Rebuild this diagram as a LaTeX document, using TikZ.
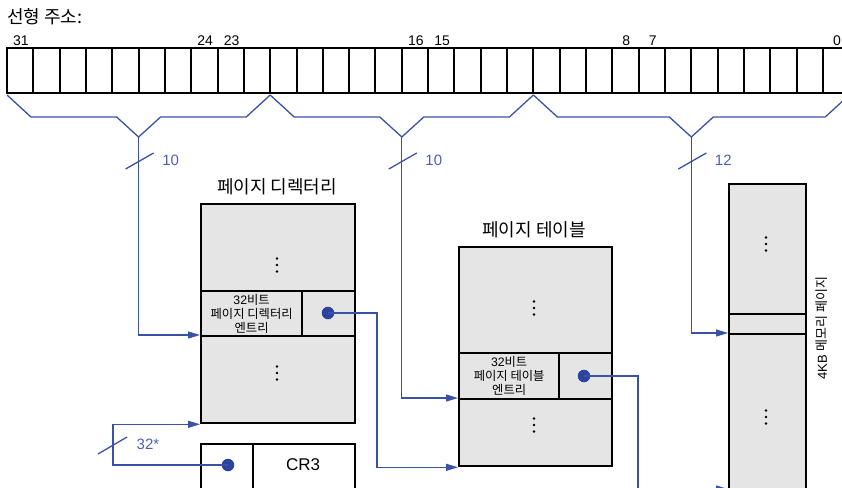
\documentclass[tikz,border=0pt]{standalone}
\usepackage{fontspec}
\setmainfont{Liberation Sans}
\newfontfamily\kr{Noto Sans CJK KR}
\usetikzlibrary{arrows.meta}
\definecolor{lineblue}{HTML}{3A52A6}
\definecolor{dotblue}{HTML}{2C449E}
\definecolor{labelblue}{HTML}{4A62B0}
\definecolor{boxgray}{HTML}{E4E5E4}
\begin{document}
\begin{tikzpicture}[x=1pt,y=-1pt,
  cellbox/.style={draw=black, line width=2pt, fill=white, minimum width=26.32pt, minimum height=45pt, inner sep=0},
  graybox/.style={draw=black, line width=2.3pt, fill=boxgray, inner sep=0, anchor=north west},
  whitebox/.style={graybox, fill=white},
  bitlabel/.style={font=\fontsize{14}{16}\selectfont, anchor=base, inner sep=0},
  bluelabel/.style={text=labelblue, font=\fontsize{15}{17}\selectfont, inner sep=0},
  blueline/.style={draw=lineblue, line width=1.3pt},
  bluearrow/.style={blueline, -{Triangle[length=12pt,width=7pt]}},
  bluedot/.style={circle, fill=dotblue, minimum size=12.5pt, inner sep=0},
  titletext/.style={font=\kr\fontsize{18}{20}\selectfont, inner sep=0},
  entrytext/.style={font=\fontsize{12.3}{14}\selectfont, align=center, inner sep=0}
]
\useasboundingbox (0,0) rectangle (842,487);
\clip (0,0) rectangle (842,487);

% title
\node[titletext, anchor=west] (lintitle) at (7,17) {선형 주소:};

% register cells
\foreach \i in {0,...,31} {
  \node[cellbox] (cell\i) at ({7+26.32*\i+13.16},70.5) {};
}
% bit labels
\foreach \i/\t in {0/31,7/24,8/23,15/16,16/15,23/8,24/7,31/0} {
  \node[bitlabel] (bit\t) at ({7+26.32*\i+14},45.5) {\t};
}

% braces
\coordinate (tip1) at (138.6,137);
\coordinate (tip2) at (401.8,137);
\coordinate (tip3) at (691.3,137);
\foreach \a/\m/\b in {7/138.6/270.2, 270.2/401.8/533.4, 533.4/691.3/849.2} {
  \draw[blueline, line join=miter] (\a,95) -- (\a+24,117) -- (\m-22,117) -- (\m,137)
     -- (\m+22,117) -- (\b-24,117) -- (\b,95);
}

% page directory
\node[graybox, minimum width=154pt, minimum height=87pt] (dirtop) at (200,203) {};
\node[graybox, minimum width=101pt, minimum height=45pt] (dirent) at (200,290) {};
\node[graybox, minimum width=53pt, minimum height=45pt] (dirptr) at (301,290) {};
\node[graybox, minimum width=154pt, minimum height=87pt] (dirbot) at (200,335) {};
\node[titletext] (dirtitle) at (277,187) {페이지 디렉터리};
\node[entrytext] (dirtext) at (dirent.center) {32{\kr 비트}\\{\kr 페이지 디렉터리}\\{\kr 엔트리}};
\node[bluedot] (dirdot) at (328,313) {};

% page table
\node[graybox, minimum width=153pt, minimum height=106pt] (ttop) at (458,246) {};
\node[graybox, minimum width=100pt, minimum height=46pt] (tent) at (458,352) {};
\node[graybox, minimum width=53pt, minimum height=46pt] (tptr) at (558,352) {};
\node[graybox, minimum width=153pt, minimum height=67pt] (tbot) at (458,398) {};
\node[titletext] (ttitle) at (534,230) {페이지 테이블};
\node[entrytext] (ttext) at (tent.center) {32{\kr 비트}\\{\kr 페이지 테이블}\\{\kr 엔트리}};
\node[bluedot] (tdot) at (584,376) {};

% 4KB page
\node[graybox, minimum width=77pt, minimum height=130pt] (ptop) at (728,183) {};
\node[graybox, minimum width=77pt, minimum height=20pt] (pmid) at (728,313) {};
\node[graybox, minimum width=77pt, minimum height=165pt] (pbot) at (728,333) {};
\node[font=\fontsize{13}{15}\selectfont, rotate=90, inner sep=0] (plabel) at (822,328) {4KB {\kr 메모리 페이지}};

% CR3
\node[whitebox, minimum width=52pt, minimum height=60pt] (crptr) at (200,443) {};
\node[whitebox, minimum width=102pt, minimum height=60pt] (crname) at (252,443) {};
\node[font=\fontsize{17}{19}\selectfont, inner sep=0] (crtext) at (303,465) {CR3};
\node[bluedot] (crdot) at (228,465) {};

% vertical dots
\foreach \x/\y [count=\k] in {277/265, 277/373, 534/308, 534/425, 766/244, 766/417} {
  \foreach \d in {-6.5,0,6.5} {
    \fill (\x,\y+\d) circle (1.4pt);
  }
}

% address connectors
\draw[bluearrow] (tip1) |- (dirbot.north west);
\draw[bluearrow] (tip2) |- (tbot.north west);
\draw[bluearrow] (tip3) |- (pbot.north west);
\foreach \t/\n [count=\k] in {tip1/10, tip2/10, tip3/12} {
  \draw[blueline] ([shift={(-13,32)}]\t) -- ([shift={(15,16)}]\t);
  \node[bluelabel] (lab\k) at ([shift={(32,23)}]\t) {\n};
}

% pointer connectors
\coordinate (dturn) at (377,313);
\draw[bluearrow] (dirdot.center) -- (dturn) |- (tbot.south west);
\coordinate (tturn) at (638,376);
\coordinate (pin) at (728,489);
\draw[bluearrow] (tdot.center) -- (tturn) |- (pin);
\coordinate (crturn) at (113,465);
\draw[bluearrow] (crdot.center) -- (crturn) |- (dirbot.south west);
\draw[blueline] (98,454) -- (127,437);
\node[bluelabel] (lab32) at (148,444) {32*};
\end{tikzpicture}
\end{document}
